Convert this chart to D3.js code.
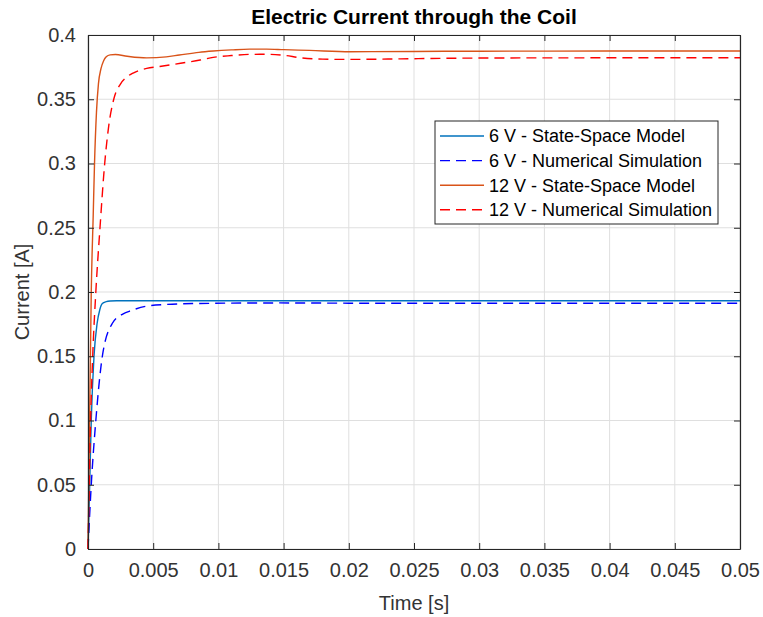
<!DOCTYPE html>
<html>
<head>
<meta charset="utf-8">
<script src="https://cdn.jsdelivr.net/npm/d3@7"></script>
<style>
  html, body { margin: 0; padding: 0; background: #fff; }
  svg { display: block; }
  text { font-family: "Liberation Sans", Arial, Helvetica, sans-serif; }
</style>
</head>
<body>
<svg id="chart" width="763" height="617"></svg>
<script>
// ---- data ----
const titleText = "Electric Current through the Coil";
const xLabel = "Time [s]";
const yLabel = "Current [A]";
const xTicks = [0, 0.005, 0.01, 0.015, 0.02, 0.025, 0.03, 0.035, 0.04, 0.045, 0.05];
const yTicks = [0, 0.05, 0.1, 0.15, 0.2, 0.25, 0.3, 0.35, 0.4];
const seriesNames = ["6 V - State-Space Model", "6 V - Numerical Simulation", "12 V - State-Space Model", "12 V - Numerical Simulation"];

const t6ss = [0, 0.00013, 0.00025, 0.00046, 0.0007, 0.0009, 0.0011, 0.0014, 0.0017, 0.0022, 0.003, 0.05];
const v6ss = [0, 0.05, 0.1, 0.15, 0.1757, 0.186, 0.191, 0.1925, 0.193, 0.1932, 0.1932, 0.1932];

const t6ns = [0, 0.00025, 0.0006, 0.0011, 0.00187, 0.0027, 0.0033, 0.0045, 0.006, 0.008, 0.0147, 0.02, 0.03, 0.05];
const v6ns = [0, 0.05, 0.1, 0.15, 0.1757, 0.183, 0.1855, 0.189, 0.1903, 0.191, 0.1915, 0.1913, 0.1912, 0.1912];

const t12ss = [0, 0.0001, 0.00025, 0.0004, 0.0005, 0.00065, 0.0008, 0.001, 0.0012, 0.0014, 0.0017, 0.0021, 0.003, 0.0045, 0.006, 0.007, 0.0085, 0.0096, 0.011, 0.0124, 0.0137, 0.015, 0.017, 0.0201, 0.025, 0.03, 0.04, 0.05];
const v12ss = [0, 0.08, 0.2, 0.26, 0.3, 0.34, 0.362, 0.374, 0.38, 0.383, 0.3845, 0.3848, 0.3835, 0.3822, 0.383, 0.3844, 0.3865, 0.3875, 0.3884, 0.389, 0.389, 0.3886, 0.388, 0.387, 0.3872, 0.3874, 0.3875, 0.3875];

const t12ns = [0, 0.0001, 0.0002, 0.00036, 0.0006, 0.00092, 0.00128, 0.0016, 0.002, 0.0025, 0.003, 0.0035, 0.0045, 0.0055, 0.0071, 0.0086, 0.0096, 0.011, 0.0124, 0.0137, 0.015, 0.0163, 0.018, 0.0201, 0.023, 0.0278, 0.035, 0.05];
const v12ns = [0, 0.05, 0.1, 0.15, 0.2, 0.25, 0.3, 0.33, 0.351, 0.362, 0.3675, 0.3706, 0.374, 0.3755, 0.378, 0.3805, 0.3826, 0.384, 0.3849, 0.385, 0.3842, 0.3823, 0.3812, 0.381, 0.3813, 0.3819, 0.3822, 0.3823];

// ---- styles ----
const colors = ["#0072BD", "#0000FF", "#D95319", "#FF0000"];
const dashes = [null, "10,6", null, "10,6"];
const seriesT = [t6ss, t6ns, t12ss, t12ns];
const seriesV = [v6ss, v6ns, v12ss, v12ns];

const L = 88, R = 740, T = 35, B = 549;
const svg = d3.select("#chart");
const x = d3.scaleLinear().domain([0, 0.05]).range([L, R]);
const y = d3.scaleLinear().domain([0, 0.4]).range([B, T]);
const axisColor = "#262626";
const fmt = d => d3.format("")(+d.toFixed(3));

// grid
svg.append("g").selectAll("line").data(xTicks).join("line")
  .attr("x1", d => x(d)).attr("x2", d => x(d)).attr("y1", T).attr("y2", B)
  .attr("stroke", "#dfdfdf").attr("stroke-width", 1);
svg.append("g").selectAll("line").data(yTicks).join("line")
  .attr("y1", d => y(d)).attr("y2", d => y(d)).attr("x1", L).attr("x2", R)
  .attr("stroke", "#dfdfdf").attr("stroke-width", 1);

// lines
const plot = svg.append("g");
seriesT.forEach((ts, i) => {
  const pts = ts.map((t, j) => [t, seriesV[i][j]]);
  plot.append("path")
    .attr("d", d3.line().x(d => x(d[0])).y(d => y(d[1])).curve(d3.curveMonotoneX)(pts))
    .attr("fill", "none").attr("stroke", colors[i]).attr("stroke-width", 1.4)
    .attr("stroke-dasharray", dashes[i]);
});

// axes
const tl = 6;
const xb = svg.append("g").attr("transform", `translate(0,${B})`)
  .call(d3.axisBottom(x).tickValues(xTicks).tickFormat(fmt).tickSizeInner(-tl).tickSizeOuter(0).tickPadding(14));
const xt = svg.append("g").attr("transform", `translate(0,${T})`)
  .call(d3.axisTop(x).tickValues(xTicks).tickFormat("").tickSizeInner(-tl).tickSizeOuter(0));
const yl = svg.append("g").attr("transform", `translate(${L},0)`)
  .call(d3.axisLeft(y).tickValues(yTicks).tickFormat(fmt).tickSizeInner(-tl).tickSizeOuter(0).tickPadding(12));
const yr = svg.append("g").attr("transform", `translate(${R},0)`)
  .call(d3.axisRight(y).tickValues(yTicks).tickFormat("").tickSizeInner(-tl).tickSizeOuter(0));
[xb, xt, yl, yr].forEach(g => {
  g.selectAll("path").attr("stroke", axisColor).attr("stroke-width", 1.2);
  g.selectAll("line").attr("stroke", axisColor).attr("stroke-width", 1);
  g.selectAll("text").attr("fill", "#333").style("font-size", "20px")
    .style("font-family", "'Liberation Sans', Arial, sans-serif");
});
xb.selectAll("text").attr("dy", "0.71em");

// title & labels
svg.append("text").attr("x", (L + R) / 2).attr("y", 24).attr("text-anchor", "middle")
  .style("font-size", "21px").style("font-weight", "bold").attr("fill", "#000").text(titleText);
svg.append("text").attr("x", (L + R) / 2).attr("y", 610).attr("text-anchor", "middle")
  .style("font-size", "20px").attr("fill", "#333").text(xLabel);
svg.append("text").attr("transform", `translate(29,${(T + B) / 2}) rotate(-90)`).attr("text-anchor", "middle")
  .style("font-size", "20px").attr("fill", "#333").text(yLabel);

// legend
const lx = 435, ly = 121, lw = 283, lh = 103, rowH = 24.6, row0 = 136;
const leg = svg.append("g");
leg.append("rect").attr("x", lx).attr("y", ly).attr("width", lw).attr("height", lh)
  .attr("fill", "#fff").attr("stroke", axisColor).attr("stroke-width", 1);
seriesNames.forEach((name, i) => {
  const yy = row0 + i * rowH;
  leg.append("line").attr("x1", 440).attr("x2", 484).attr("y1", yy).attr("y2", yy)
    .attr("stroke", colors[i]).attr("stroke-width", 1.4).attr("stroke-dasharray", dashes[i]);
  leg.append("text").attr("x", 489).attr("y", yy).attr("dy", "0.35em")
    .style("font-size", "18px").attr("fill", "#000").text(name);
});
</script>
</body>
</html>
